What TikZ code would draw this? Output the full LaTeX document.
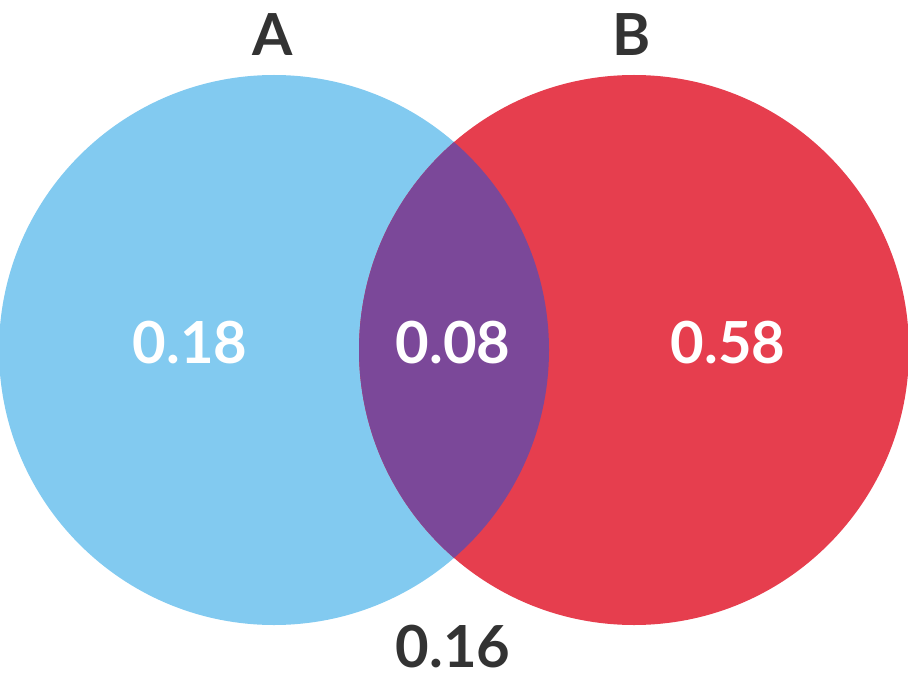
\documentclass[tikz,border=0pt]{standalone}
\usepackage{fontspec}
\setmainfont{Lato}
\usepackage{tikz}
\usetikzlibrary{positioning}
\usepackage{xcolor}
\definecolor{setA}{HTML}{82CAF0}
\definecolor{setB}{HTML}{E63E4E}
\definecolor{both}{HTML}{7B4899}
\definecolor{ink}{HTML}{333333}

\begin{document}
\begin{tikzpicture}[
  prob/.style={font=\fontsize{33}{36}\selectfont\bfseries, text=white, inner sep=0pt},
  setname/.style={font=\fontsize{33}{36}\selectfont\bfseries, text=ink, inner sep=0pt}
]
\useasboundingbox (0,0) rectangle (18.16,13.76);
\clip (0,0) rectangle (18.16,13.76);
\fill[setA] (5.48,6.76) circle (5.5);
\fill[setB] (12.68,6.76) circle (5.5);
\begin{scope}
  \clip (5.48,6.76) circle (5.5);
  \fill[both] (12.68,6.76) circle (5.5);
\end{scope}

\node[prob] (onlyA) at (3.80,6.90) {0.18};
\node[prob] (AB) at (9.06,6.90) {0.08};
\node[prob] (onlyB) at (14.56,6.90) {0.58};
\node[setname] (A) at (5.46,13.06) {A};
\node[setname] (B) at (12.64,13.06) {B};
\node[setname] (none) at (9.06,0.82) {0.16};
\end{tikzpicture}
\end{document}
